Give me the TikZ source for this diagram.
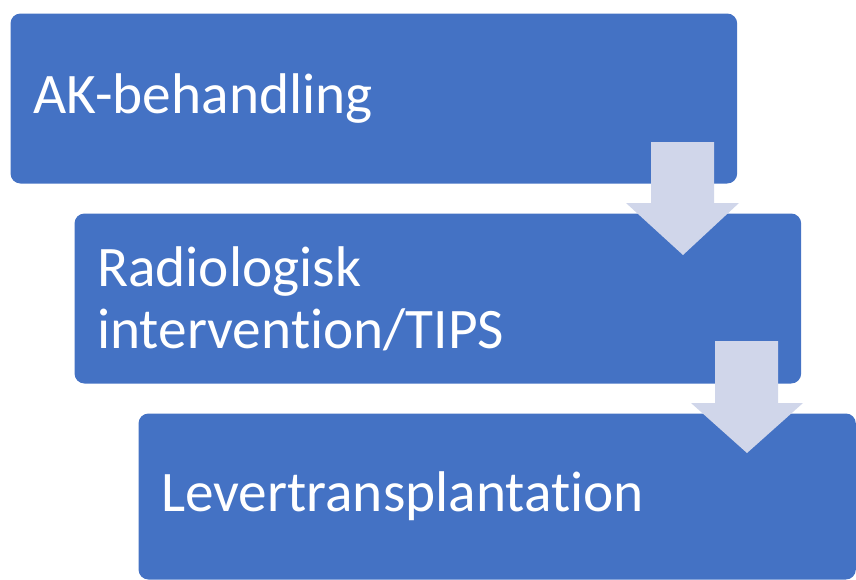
\documentclass[tikz,border=0pt]{standalone}
\usepackage{fontspec}
\setmainfont[Ligatures=NoCommon]{Carlito}
\usetikzlibrary{positioning}
\definecolor{boxblue}{RGB}{68,114,196}
\definecolor{arrowgray}{RGB}{208,214,234}

\tikzset{every picture/.style={line width=0.75pt}}
\tikzset{
  stepbox/.style={fill=boxblue, draw=none, rounded corners=7.5pt, anchor=north west,
    minimum width=545pt, minimum height=127.5pt, inner xsep=17pt, text width=511pt,
    align=left, text=white, font=\fontsize{43}{46.5}\selectfont},
  downarrow/.style={fill=arrowgray, draw=none}
}

\begin{document}
\begin{tikzpicture}[x=0.75pt,y=0.75pt,yscale=-1,xscale=1]
        \useasboundingbox (0,0) rectangle (856,579);
        \clip (0,0) rectangle (856,579);

        % Steps
        \node[stepbox] (ak) at (10,13) {AK-behandling};
        \node[stepbox] (radio) at (74,213) {Radiologisk\\intervention/TIPS};
        \node[stepbox, minimum width=538pt, text width=504pt, minimum height=124.5pt] (lever) at (138,413) {Levertransplantation};

        % Block arrow ak -> radio
        \draw[downarrow] (651,142) -- (714,142) -- (714,203) -- (739,203) -- (683,255) -- (626,203) -- (651,203) -- cycle ;
        % Block arrow radio -> lever
        \draw[downarrow] (715,341) -- (778,341) -- (778,403) -- (803,403) -- (747,453) -- (691,403) -- (715,403) -- cycle ;

\end{tikzpicture}
\end{document}
